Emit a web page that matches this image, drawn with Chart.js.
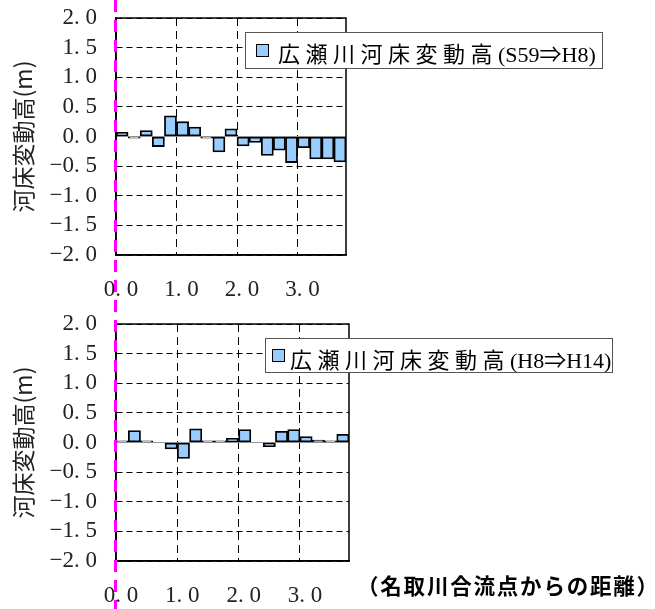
<!DOCTYPE html>
<html>
<head>
<meta charset="utf-8">
<script src="https://cdn.jsdelivr.net/npm/chart.js@4.4.1/dist/chart.umd.min.js"></script>
<style>
    body { margin: 0; background: #fff; width: 655px; height: 609px; position: relative; overflow: hidden; }
    canvas { position: absolute; left: 0; }
    .legend { position: absolute; background: #fff; border: 1px solid #555; box-sizing: border-box; white-space: nowrap; }
    .legend .sw { position: absolute; width: 13px; height: 13px; box-sizing: border-box; background: rgb(153,204,255); border: 1.5px solid #000; }
    .legend .txt { position: absolute; top: 0; line-height: 38px; }
    .jp { font-family: "Noto Sans CJK JP"; font-size: 22px; letter-spacing: 5.5px; }
    .lat { font-family: "Liberation Serif", "Noto Sans CJK JP"; font-size: 22px; }
    #note { position: absolute; left: 357px; top: 569px; font-family: "Noto Sans CJK JP"; font-size: 21.5px; font-weight: bold; letter-spacing: 1.8px; white-space: nowrap; }
</style>
</head>
<body>
<canvas id="chartTop" width="655" height="300" style="top:0"></canvas>
<canvas id="chartBottom" width="655" height="309" style="top:300px"></canvas>
<div class="legend" id="legendTop" style="left:245px;top:32px;width:358px;height:37px"></div>
<div class="legend" id="legendBottom" style="left:265px;top:338px;width:348px;height:35px"></div>
<div id="note"></div>
<script>
// distance from the Natori river confluence (km), bar centres
const distances = [0.1, 0.3, 0.5, 0.7, 0.9, 1.1, 1.3, 1.5, 1.7, 1.9, 2.1, 2.3, 2.5, 2.7, 2.9, 3.1, 3.3, 3.5, 3.7];
const xTicks = [0, 1, 2, 3];
const yTicks = [-2, -1.5, -1, -0.5, 0, 0.5, 1, 1.5, 2];

const labelTop = "広瀬川河床変動高(S59⇒H8)";
const valuesTop = [0.07, -0.03, 0.10, -0.17, 0.35, 0.25, 0.16, -0.03, -0.26, 0.13, -0.16, -0.10, -0.32, -0.23, -0.44, -0.19, -0.38, -0.38, -0.43];

const labelBottom = "広瀬川河床変動高(H8⇒H14)";
const valuesBottom = [0.03, 0.20, 0.03, 0, -0.11, -0.27, 0.23, 0.03, 0.03, 0.07, 0.22, 0, -0.07, 0.19, 0.22, 0.10, 0.04, 0.03, 0.14];

const yTitle = "河床変動高(m)";
const xNote = "（名取川合流点からの距離）";

const tickFont = { family: "Liberation Serif", size: 23 };

function fmt(v) {
    // 2.0 -> "2. 0", -1.5 -> "−1. 5"
    const s = Math.abs(v).toFixed(1).replace(".", ". ");
    return (v < 0 ? "−" : "") + s;
}

// frame on top/right plus the magenta marker at distance 0
const framePlugin = {
    id: "frame",
    afterDraw(chart, args, opts) {
        const { ctx, chartArea: a, scales } = chart;
        ctx.save();
        ctx.strokeStyle = "#000";
        ctx.lineWidth = 1.5;
        ctx.strokeRect(a.left, a.top, a.right - a.left, a.bottom - a.top);
        const x0 = scales.x.getPixelForValue(0) - 0.5;
        ctx.strokeStyle = "#ff00ff";
        ctx.lineWidth = 3;
        ctx.setLineDash([12, 8]);
        ctx.lineDashOffset = opts.dashOffset || 0;
        ctx.beginPath();
        ctx.moveTo(x0, 0);
        ctx.lineTo(x0, chart.height);
        ctx.stroke();
        ctx.restore();
    }
};

function makeChart(id, label, values, pad) {
    const ctx = document.getElementById(id).getContext("2d");
    return new Chart(ctx, {
        type: "bar",
        data: {
            datasets: [{
                label: label,
                data: distances.map((d, i) => ({ x: d, y: values[i] })),
                backgroundColor: "rgb(153,204,255)",
                borderColor: "#000",
                borderWidth: 1.8,
                borderSkipped: false,
                barPercentage: 1,
                categoryPercentage: 1
            }]
        },
        options: {
            responsive: false,
            animation: false,
            events: [],
            layout: { autoPadding: false, padding: { top: pad.top, right: pad.right, left: 0, bottom: 0 } },
            plugins: {
                legend: { display: false },
                tooltip: { enabled: false },
                frame: { dashOffset: pad.dashOffset }
            },
            scales: {
                x: {
                    type: "linear",
                    min: 0,
                    max: 3.8,
                    offset: false,
                    afterBuildTicks: s => { s.ticks = xTicks.map(v => ({ value: v })); },
                    afterFit: s => { s.height = pad.xHeight; s.paddingLeft = 0; s.paddingRight = 0; },
                    grid: { color: "#000", lineWidth: 1, drawTicks: false, offset: false },
                    border: { color: "#000", width: 1.5, dash: [8, 5] },
                    ticks: { font: tickFont, color: "#222", padding: 21, labelOffset: 5, autoSkip: false, maxRotation: 0, callback: v => fmt(v) }
                },
                y: {
                    min: -2,
                    max: 2,
                    afterBuildTicks: s => { s.ticks = yTicks.map(v => ({ value: v })); },
                    afterFit: s => { s.width = 116; s.paddingTop = 0; s.paddingBottom = 0; },
                    grid: {
                        color: c => (c.tick && c.tick.value === 0 ? "#999" : "#000"),
                        lineWidth: 1,
                        drawTicks: false
                    },
                    border: {
                        color: "#000",
                        width: 1.5,
                        dash: c => (c.tick && c.tick.value === 0 ? [] : [6, 4])
                    },
                    ticks: { font: tickFont, color: "#222", padding: 19, autoSkip: false, callback: v => fmt(v) },
                    title: {
                        display: true,
                        text: yTitle,
                        color: "#222",
                        font: { family: "Noto Sans CJK JP", size: 23 },
                        padding: { top: 9, bottom: 0 }
                    }
                }
            }
        },
        plugins: [framePlugin]
    });
}

const chartTop = makeChart("chartTop", labelTop, valuesTop, { top: 18, right: 309, xHeight: 45, dashOffset: 0 });
const chartBottom = makeChart("chartBottom", labelBottom, valuesBottom, { top: 24, right: 306, xHeight: 48, dashOffset: 300 });

function fillLegend(el, label, swLeft, swTop, txtLeft) {
    const i = label.indexOf("(");
    el.innerHTML =
        `<span class="sw" style="left:${swLeft}px;top:${swTop}px"></span>` +
        `<span class="txt" style="left:${txtLeft}px"><span class="jp">${label.slice(0, i)}</span><span class="lat">${label.slice(i)}</span></span>`;
}
fillLegend(document.getElementById("legendTop"), chartTop.data.datasets[0].label, 10, 11, 32);
fillLegend(document.getElementById("legendBottom"), chartBottom.data.datasets[0].label, 6, 10, 24);
document.getElementById("note").textContent = xNote;
</script>
</body>
</html>
